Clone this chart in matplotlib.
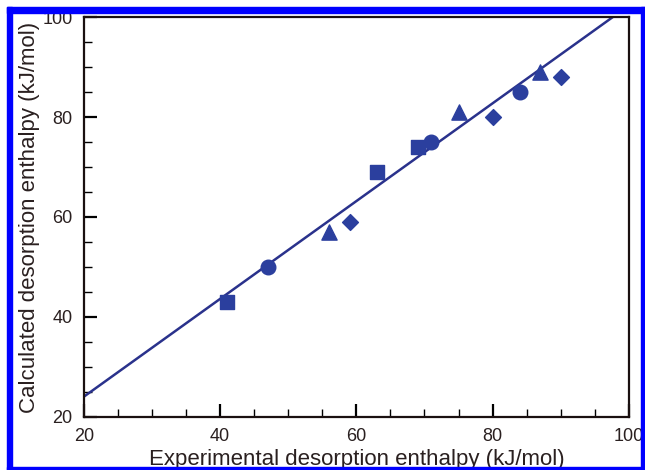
import matplotlib
matplotlib.use("Agg")
from matplotlib import pyplot as plt
from matplotlib.patches import Rectangle
from matplotlib.ticker import MultipleLocator

plt.rcParams['font.family'] = ['Liberation Sans', 'DejaVu Sans']

# Points, par forme de marqueur
square_x = [41, 63, 69]
square_y = [43, 69, 74]
circle_x = [47, 71, 84]
circle_y = [50, 75, 85]
triangle_x = [56, 75, 87]
triangle_y = [57, 81, 89]
diamond_x = [59, 80, 90]
diamond_y = [59, 80, 88]

# Droite de corrélation
fit_intercept = 4.5
fit_slope = 0.978
line_x = [20, 100]

mark_color = '#2b3f9e'
line_color = '#2a328c'

fig = plt.figure(figsize=(6.45, 4.70), dpi=100)
ax = fig.add_axes([0.130, 0.1128, 0.845, 0.851])

ax.plot(line_x, [fit_intercept + fit_slope * x for x in line_x],
        color=line_color, linewidth=1.8, zorder=2)
ax.scatter(square_x, square_y, marker='s', s=100, color=mark_color, zorder=3)
ax.scatter(circle_x, circle_y, marker='o', s=110, color=mark_color, zorder=3)
ax.scatter(triangle_x, triangle_y, marker='^', s=120, color=mark_color, zorder=3)
ax.scatter(diamond_x, diamond_y, marker='D', s=65, color=mark_color, zorder=3)

ax.set_xlim(20, 100)
ax.set_ylim(20, 100)
ax.xaxis.set_major_locator(MultipleLocator(20))
ax.xaxis.set_minor_locator(MultipleLocator(5))
ax.yaxis.set_major_locator(MultipleLocator(20))
ax.yaxis.set_minor_locator(MultipleLocator(5))
ax.tick_params(which='major', direction='in', length=9.5, width=1.6,
               labelsize=13, pad=8, top=False, right=False, labelcolor='#2a2020')
ax.tick_params(which='minor', direction='in', length=5.5, width=1.0,
               top=False, right=False)
for s in ax.spines.values():
    s.set_linewidth(1.6)
    s.set_color('#1a1010')

ax.set_xlabel('Experimental desorption enthalpy (kJ/mol)', fontsize=16,
              labelpad=2.5, color='#2a2020')
ax.set_ylabel('Calculated desorption enthalpy (kJ/mol)', fontsize=16,
              labelpad=2, color='#2a2020')

# Cadre bleu autour de la figure
W, H = 645.0, 470.0
blue = '#0000ff'
for (x0, y0, w, h) in [(7, 7, 638, 6), (7, 7, 5, 463), (641, 7, 4, 463), (7, 467, 638, 3)]:
    fig.patches.append(Rectangle((x0 / W, 1 - (y0 + h) / H), w / W, h / H,
                                 transform=fig.transFigure, color=blue, zorder=10))

plt.savefig('out.png', dpi=100)
plt.close()
